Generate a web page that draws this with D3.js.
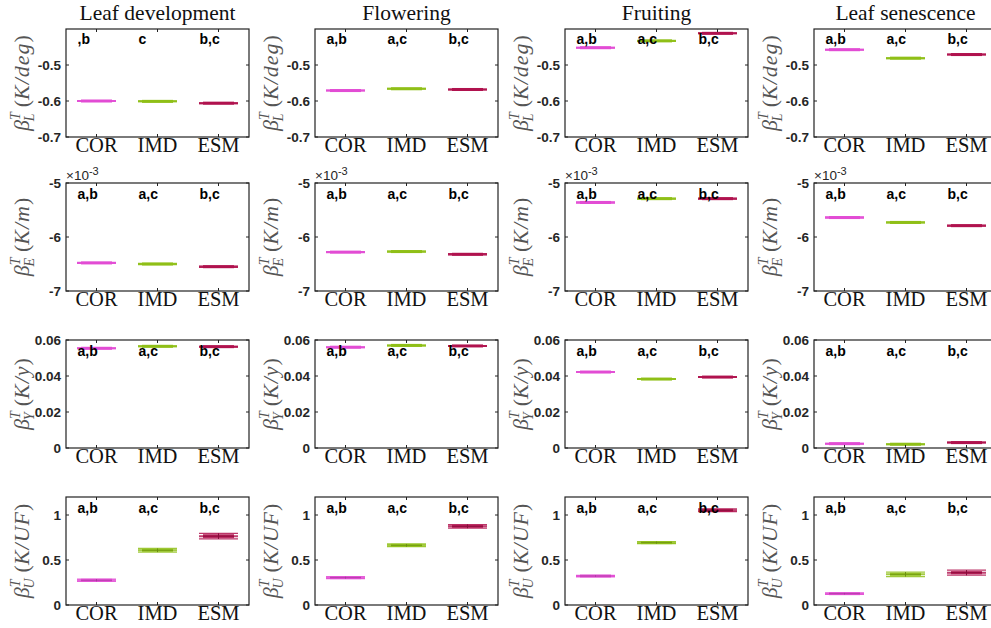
<!DOCTYPE html>
<html><head><meta charset="utf-8">
<script src="https://cdn.jsdelivr.net/npm/d3@7"></script>
<style>body{margin:0;background:#fff;}svg{display:block;}</style>
</head><body>
<svg id="chart" width="991" height="628"></svg>
<script>
const phases = ["Leaf development", "Flowering", "Fruiting", "Leaf senescence"];
const models = ["COR", "IMD", "ESM"];
const modelColors = ["#e24cd4", "#8fbf17", "#b0124e"];
const lettersDefault = ["a,b", "a,c", "b,c"];
const lettersLeafDevL = [",b", "c", "b,c"];

// medians [phase][model]
const medL = [[-0.600, -0.601, -0.606], [-0.571, -0.566, -0.568], [-0.452, -0.433, -0.412], [-0.4575, -0.481, -0.471]];
const medE = [[-0.00648, -0.00650, -0.00655], [-0.00628, -0.00627, -0.00632], [-0.00536, -0.00529, -0.00529], [-0.00564, -0.00573, -0.00579]];
const medY = [[0.0554, 0.0565, 0.0563], [0.0560, 0.0570, 0.0567], [0.0422, 0.0383, 0.0394], [0.0024, 0.0021, 0.0030]];
const medU = [[0.275, 0.608, 0.765], [0.304, 0.663, 0.874], [0.322, 0.693, 1.052], [0.126, 0.341, 0.359]];
// half interquartile range [phase][model]
const iqrL = [[0.001, 0.001, 0.001], [0.001, 0.001, 0.001], [0.001, 0.001, 0.001], [0.001, 0.001, 0.001]];
const iqrE = [[0.00001, 0.00001, 0.00001], [0.00001, 0.00001, 0.00001], [0.00001, 0.00001, 0.00001], [0.00001, 0.00001, 0.00001]];
const iqrY = [[0.0002, 0.0002, 0.0002], [0.0002, 0.0002, 0.0002], [0.0002, 0.0002, 0.0002], [0.0002, 0.0002, 0.0002]];
const iqrU = [[0.010, 0.012, 0.022], [0.008, 0.012, 0.015], [0.006, 0.010, 0.012], [0.006, 0.018, 0.018]];
// half whisker range [phase][model]
const whkU = [[0.012, 0.020, 0.030], [0.010, 0.015, 0.020], [0.008, 0.012, 0.015], [0.008, 0.025, 0.028]];

const yDomains = [[-0.7, -0.4], [-0.007, -0.005], [0, 0.06], [0, 1.2]];
const yTicks = [[-0.7, -0.6, -0.5], [-0.007, -0.006, -0.005], [0, 0.02, 0.04, 0.06], [0, 0.5, 1]];
const yTickLabels = [["-0.7", "-0.6", "-0.5"], ["-7", "-6", "-5"], ["0", "0.02", "0.04", "0.06"], ["0", "0.5", "1"]];
const ySub = ["L", "E", "Y", "U"];
const yUnit = ["K/deg", "K/m", "K/y", "K/UF"];

const rowMed = [medL, medE, medY, medU];
const rowIqr = [iqrL, iqrE, iqrY, iqrU];
const rowWhk = [null, null, null, whkU];

const colLeft = [66, 315, 565, 814];
const rowTop = [29, 183, 340, 497];
const W = 183, H = 108;

const svg = d3.select("#chart");

for (let r = 0; r < 4; r++) {
  for (let c = 0; c < 4; c++) {
    const x0 = colLeft[c], y0 = rowTop[r];
    const g = svg.append("g").attr("transform", `translate(${x0},${y0})`);
    const x = d3.scaleLinear().domain([0.5, 3.5]).range([0, W]);
    const y = d3.scaleLinear().domain(yDomains[r]).range([H, 0]);

    // boxes
    models.forEach((m, i) => {
      const med = rowMed[r][c][i];
      const iq = rowIqr[r][c][i];
      const wk = rowWhk[r] ? rowWhk[r][c][i] : iq;
      const cx = x(i + 1);
      const col = modelColors[i];
      const yq3 = y(med + iq), yq1 = y(med - iq);
      let top = Math.min(yq3, yq1), h = Math.abs(yq1 - yq3);
      if (h < 3) { top = y(med) - 1.5; h = 3; }
      const ylo = y(med - wk), yhi = y(med + wk);
      const bg = g.append("g");
      bg.append("line").attr("x1", cx).attr("x2", cx).attr("y1", ylo).attr("y2", yhi)
        .attr("stroke", col).attr("stroke-width", 1);
      [ylo, yhi].forEach(yy => {
        bg.append("line").attr("x1", cx - 19.5).attr("x2", cx + 19.5).attr("y1", yy).attr("y2", yy)
          .attr("stroke", col).attr("stroke-width", 1.3).attr("stroke-opacity", 0.85);
      });
      bg.append("line").attr("x1", cx - 19.5).attr("x2", cx + 19.5).attr("y1", y(med)).attr("y2", y(med))
        .attr("stroke", col).attr("stroke-width", 2).attr("stroke-opacity", 0.8);
      bg.append("rect").attr("x", cx - 15.5).attr("width", 31).attr("y", top).attr("height", h)
        .attr("fill", col).attr("fill-opacity", r === 3 ? 0.85 : 1);
      if (r === 3) {
        bg.append("line").attr("x1", cx - 15.5).attr("x2", cx + 15.5).attr("y1", y(med)).attr("y2", y(med))
          .attr("stroke", d3.color(col).darker(0.6)).attr("stroke-width", 1);
        bg.append("line").attr("x1", cx).attr("x2", cx).attr("y1", ylo).attr("y2", yhi)
          .attr("stroke", d3.color(col).darker(0.8)).attr("stroke-width", 1);
      }
    });

    // letters
    const lets = (r === 0 && c === 0) ? lettersLeafDevL : lettersDefault;
    lets.forEach((t, i) => {
      g.append("text").attr("x", x(i + 1) - 19).attr("y", r === 0 ? 15 : 16)
        .attr("font-family", "Liberation Sans, Arial, sans-serif").attr("font-weight", "bold")
        .attr("font-size", 14).attr("fill", "#000").text(t);
    });

    // frame
    g.append("rect").attr("x", 0).attr("y", 0).attr("width", W).attr("height", H)
      .attr("fill", "none").attr("stroke", "#222").attr("stroke-width", 1.2);

    // y ticks (inside, both sides)
    yTicks[r].forEach((tv, k) => {
      const yy = y(tv);
      g.append("line").attr("x1", 0).attr("x2", 3).attr("y1", yy).attr("y2", yy).attr("stroke", "#222");
      g.append("line").attr("x1", W - 3).attr("x2", W).attr("y1", yy).attr("y2", yy).attr("stroke", "#222");
      g.append("text").attr("x", -5).attr("y", yy + 5).attr("text-anchor", "end")
        .attr("font-family", "Liberation Sans, Arial, sans-serif").attr("font-weight", "bold")
        .attr("font-size", 13.5).attr("fill", "#262626").text(yTickLabels[r][k]);
    });
    // x ticks
    models.forEach((m, i) => {
      const xx = x(i + 1);
      g.append("line").attr("x1", xx).attr("x2", xx).attr("y1", H).attr("y2", H - 3).attr("stroke", "#222");
      g.append("line").attr("x1", xx).attr("x2", xx).attr("y1", 0).attr("y2", 3).attr("stroke", "#222");
      g.append("text").attr("x", xx).attr("y", H + 15).attr("text-anchor", "middle")
        .attr("font-family", "Liberation Serif, Times New Roman, serif")
        .attr("font-size", 20.5).attr("fill", "#111").text(m);
    });

    // exponent
    if (r === 1) {
      const ex = g.append("text").attr("x", 0).attr("y", -3)
        .attr("font-family", "Liberation Sans, Arial, sans-serif").attr("font-size", 13.5).attr("fill", "#262626");
      ex.append("tspan").text("\u00d710");
      ex.append("tspan").attr("dy", -5).attr("font-size", 11).text("-3");
    }

    // y label
    const lab = g.append("text")
      .attr("transform", `translate(-37,${H / 2}) rotate(-90)`)
      .attr("text-anchor", "middle")
      .attr("font-family", "Liberation Serif, Times New Roman, serif")
      .attr("font-size", 22).attr("fill", "#555");
    lab.append("tspan").attr("font-style", "italic").text("\u03b2");
    lab.append("tspan").attr("font-style", "italic").attr("font-size", 14).attr("dy", -9).text("T");
    lab.append("tspan").attr("font-style", "italic").attr("font-size", 14).attr("dx", -9).attr("dy", 14).text(ySub[r]);
    lab.append("tspan").attr("dy", -5).attr("dx", 6).text("(");
    lab.append("tspan").attr("font-style", "italic").attr("letter-spacing", 1).text(yUnit[r]);
    lab.append("tspan").text(")");

    // title
    if (r === 0) {
      g.append("text").attr("x", W / 2).attr("y", -9).attr("text-anchor", "middle")
        .attr("font-family", "Liberation Serif, Times New Roman, serif")
        .attr("font-size", 21.5).attr("fill", "#111").text(phases[c]);
    }
  }
}
</script>
</body></html>
